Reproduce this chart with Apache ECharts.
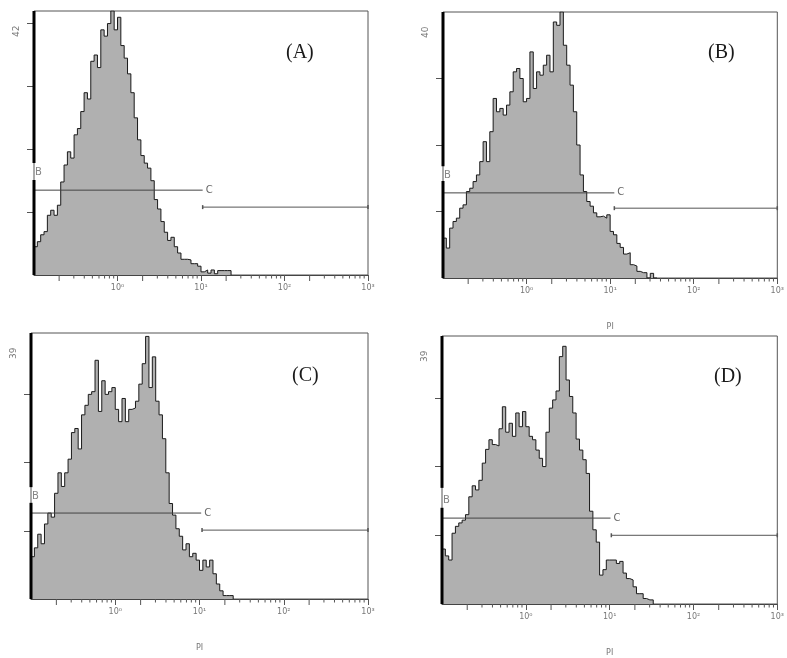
<!DOCTYPE html>
<html><head><meta charset="utf-8">
<script src="https://cdn.jsdelivr.net/npm/echarts@6/dist/echarts.min.js"></script>
<style>html,body{margin:0;padding:0;background:#fff}#chart{width:787px;height:658px}</style>
</head><body><div id="chart"></div>
<script>
// ---- data ----
const logMin = -1, logMax = 3, binWidth = 0.04;           // x axis in log10 units, bin = 0.04 decade
const decadeTicks = [0, 1, 2, 3];
const decadeLabels = ['10\u2070', '10\u00b9', '10\u00b2', '10\u00b3'];
const minorMultipliers = [2, 3, 4, 5, 6, 7, 8, 9];
const yTicks = [10, 20, 30, 40];
const panelNames = ['(A)', '(B)', '(C)', '(D)'];
const yMax = [42, 40, 39, 39];
const xNames = ['', 'PI', 'PI', 'PI'];

const countsA = [4.5,5.3,6.4,6.9,9.5,10.3,9.5,11.1,14.8,17.5,19.6,18.6,22.3,23.3,26,29,28,34,35,33,
  39,38,40,42,39,41,36.5,34.5,32,29,25,21.5,19,17.8,17,15,12,10.5,8.5,6.8,
  5.5,6,4.5,3.5,2.5,2.5,2.4,1.8,1.8,1.4,0.5,0.8,0.3,0.8,0.2,0.7,0.7,0.7,0.7];
const countsB = [6,4.5,7.5,8.5,9,10.5,11,13,13.5,14.5,15.5,17.5,20.5,17.5,22,27,25,25.5,24.5,26,
  28,31,31.5,30,26.5,27,34,28.5,31,30.5,32,33.5,31,38.5,38,40,35,32,29,25,
  20,15.5,13,11.5,10.8,9.8,9.2,9.3,9,9.5,7,6.5,5.2,4.6,3.6,3.8,2,1.8,1,0.8,0.8,0,0.7,0];
const countsC = [6.2,7.5,9.5,8.1,11,12.6,12,15.5,18.5,16.5,18.5,20.5,24.4,25,22,27,28.4,30,30.4,35,
  27.5,32,30,30.4,31,27.8,26,29.4,26,27.8,28,29,31.5,34.5,38.5,31,35.5,29,27,23.5,
  18.5,14,12.3,10.3,9.2,7.2,8.1,6.2,6.7,5.7,4.2,5.7,4.7,5.7,3.7,2.2,1.2,0.5,0.5,0.5];
const countsD = [8,7,6.4,10.3,11.3,11.8,12.2,13,15.6,17.2,16.6,18,20.5,22.5,23.9,23.2,23,25.5,28.7,25,
  26.3,24.4,27.8,25.8,28,25.8,24.4,23.9,22.4,21.2,20,25,28.5,29.7,31,36,37.5,32.6,30.2,27.8,
  24,22.4,21,19,13.5,10.8,9,4.2,5,6.4,6.4,6.4,5.9,6.2,4.5,3.7,3.5,2.5,1.5,1.5,0.8,0.6,0.6];
const allCounts = [countsA, countsB, countsC, countsD];

// gate markers (counts on y, log10 on x)
const markerCLevel = [13.5, 12.8, 12.6, 12.5];
const markerCEnd = [1.02, 1.05, 1.02, 1.01];
const rangeLevel = [10.8, 10.5, 10.1, 10.0];
const rangeStart = [1.02, 1.05, 1.03, 1.02];
const markerBLevel = [16.4, 15.5, 15.1, 15.1];
const bGapTop = [17.8, 16.8, 16.4, 16.9];
const bGapBottom = [15.1, 14.6, 14.1, 14.0];

// ---- layout ----
const grids = [
  {left: 34, top: 11, width: 334, height: 264},
  {left: 443, top: 12, width: 338, height: 266},
  {left: 31, top: 333, width: 337, height: 266},
  {left: 442, top: 336, width: 340, height: 268}
];
const titlePos = [[286, 43], [708, 43], [292, 366], [714, 367]];

const minorPositions = [];
for (let d = logMin; d < logMax; d++) {
  minorMultipliers.forEach(k => minorPositions.push([d + Math.log10(k), k]));
}

const option = {
  animation: false,
  backgroundColor: '#fff',
  title: panelNames.map((t, i) => ({
    text: t, left: titlePos[i][0], top: titlePos[i][1], padding: 0,
    textStyle: {fontFamily: 'Liberation Serif', fontSize: 20, fontWeight: 'normal', color: '#1a1a1a'}
  })),
  grid: grids.map(g => Object.assign({show: true, borderColor: '#555', borderWidth: 1, backgroundColor: 'transparent'}, g)),
  xAxis: grids.map((g, i) => ({
    type: 'value', gridIndex: i, min: logMin, max: logMax, interval: 1,
    name: xNames[i], nameLocation: 'middle', nameGap: 45,
    nameTextStyle: {fontSize: 8, color: '#777', fontFamily: 'DejaVu Sans'},
    axisLine: {show: true, onZero: false, lineStyle: {color: '#444', width: 1}},
    axisTick: {show: true, length: 6, customValues: decadeTicks, lineStyle: {color: '#555'}},
    splitLine: {show: false},
    axisLabel: {show: true, margin: 9, fontSize: 8, color: '#777', fontFamily: 'DejaVu Sans',
      customValues: decadeTicks,
      formatter: v => decadeLabels[decadeTicks.indexOf(Math.round(v))] || ''}
  })),
  yAxis: grids.map((g, i) => ({
    type: 'value', gridIndex: i, min: 0, max: yMax[i], interval: 10,
    axisLine: {show: false, onZero: false},
    axisTick: {show: true, length: 7, customValues: yTicks.filter(t => t < yMax[i] - 0.5), lineStyle: {color: '#555'}},
    splitLine: {show: false},
    axisLabel: {show: false}
  })),
  graphic: grids.map((g, i) => ({
    type: 'text', x: g.left - 22, y: g.top + 26, rotation: Math.PI / 2,
    style: {text: String(yMax[i]), fontSize: 9, fill: '#777', fontFamily: 'DejaVu Sans', align: 'left', verticalAlign: 'top'}
  })),
  series: []
};

allCounts.forEach((counts, i) => {
  const pts = counts.map((c, j) => [logMin + j * binWidth, c]);
  pts.push([logMin + counts.length * binWidth, 0]);
  option.series.push({
    type: 'line', xAxisIndex: i, yAxisIndex: i, step: 'end', data: pts,
    symbol: 'none', lineStyle: {color: '#1a1a1a', width: 1},
    areaStyle: {color: '#b0b0b0', opacity: 1}, z: 2
  });
  // minor log ticks
  option.series.push({
    type: 'custom', xAxisIndex: i, yAxisIndex: i, data: minorPositions, clip: false, silent: true, z: 3,
    renderItem: (params, api) => {
      const p = api.coord([api.value(0), 0]);
      const len = api.value(1) === 2 ? 6 : 3.5;
      return {type: 'line', shape: {x1: p[0], y1: p[1], x2: p[0], y2: p[1] + len},
        style: {stroke: '#555', lineWidth: 1}};
    }
  });
  // thick left bar (marker B) with gap for its label
  option.series.push({
    type: 'line', xAxisIndex: i, yAxisIndex: i, clip: false, symbol: 'none', z: 5,
    data: [[logMin, yMax[i]], [logMin, bGapTop[i]]], lineStyle: {color: '#000', width: 3}
  });
  option.series.push({
    type: 'line', xAxisIndex: i, yAxisIndex: i, clip: false, symbol: 'none', z: 5,
    data: [[logMin, bGapBottom[i]], [logMin, 0]], lineStyle: {color: '#000', width: 3}
  });
  option.series.push({
    type: 'scatter', xAxisIndex: i, yAxisIndex: i, symbolSize: 0, z: 6,
    data: [[logMin, markerBLevel[i]]],
    label: {show: true, position: 'right', distance: 1, formatter: 'B', fontSize: 10, color: '#666', fontFamily: 'DejaVu Sans'}
  });
  // marker C line
  option.series.push({
    type: 'line', xAxisIndex: i, yAxisIndex: i, symbol: 'none', z: 4,
    data: [[logMin, markerCLevel[i]], [markerCEnd[i], markerCLevel[i]]],
    lineStyle: {color: '#444', width: 1},
    endLabel: {show: true, formatter: 'C', distance: 3, fontSize: 10, color: '#666', fontFamily: 'DejaVu Sans'}
  });
  // range marker
  option.series.push({
    type: 'line', xAxisIndex: i, yAxisIndex: i, clip: false, z: 4,
    data: [[rangeStart[i], rangeLevel[i]], [logMax, rangeLevel[i]]],
    symbol: 'rect', symbolSize: [1.5, 4], showSymbol: true,
    itemStyle: {color: '#555'}, lineStyle: {color: '#555', width: 1}
  });
});

const chart = echarts.init(document.getElementById('chart'), null, {renderer: 'canvas'});
chart.setOption(option);
</script>
</body></html>
